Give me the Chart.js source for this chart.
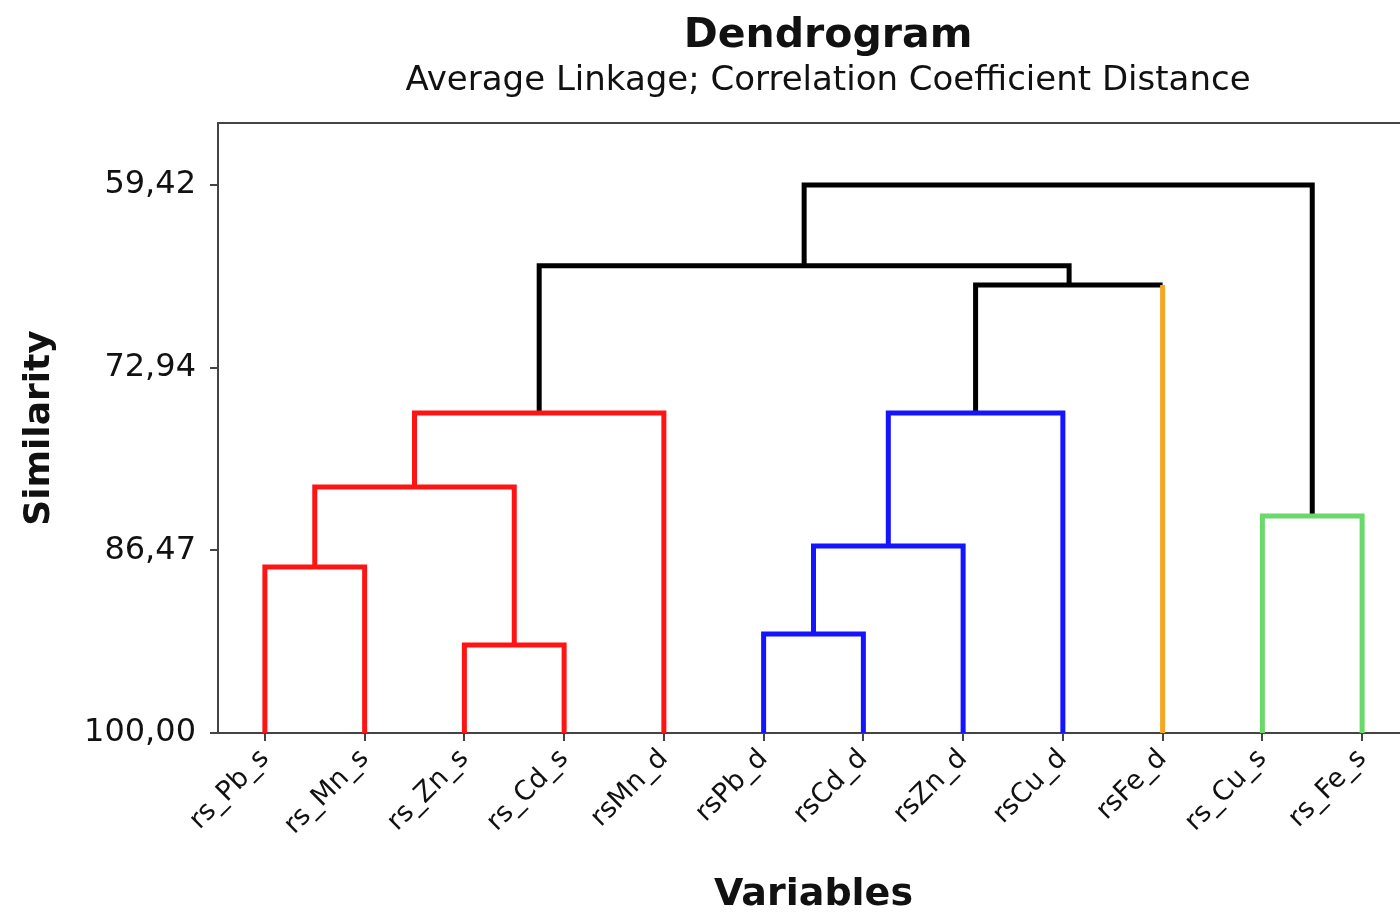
<!DOCTYPE html>
<html>
<head>
<meta charset="utf-8">
<script src="https://cdn.jsdelivr.net/npm/chart.js@4.4.0/dist/chart.umd.min.js"></script>
<style>
  html, body { margin: 0; padding: 0; background: #fff; overflow: hidden; }
  #wrap { width: 1656px; height: 920px; }
</style>
</head>
<body>
<div id="wrap"><canvas id="dendro" width="1656" height="920"></canvas></div>
<script>
// variables en el orden del eje x
var leaves = ["rs_Pb_s", "rs_Mn_s", "rs_Zn_s", "rs_Cd_s", "rsMn_d", "rsPb_d", "rsCd_d", "rsZn_d", "rsCu_d", "rsFe_d", "rs_Cu_s", "rs_Fe_s"];
// uniones: nodo izq, nodo der, similitud (los nodos 12+ son las uniones previas)
var joinLeft  = [0, 2, 12, 14, 5, 16, 17, 18, 15, 10, 20];
var joinRight = [1, 3, 13, 4, 6, 7, 8, 9, 19, 11, 21];
var joinSim   = [87.71, 93.48, 81.78, 76.30, 92.67, 86.15, 76.30, 66.82, 65.40, 83.93, 59.42];
var yTicks = [59.42, 72.94, 86.47, 100.00];

// colores
var red = "#ff1414", blue = "#1414ff", orange = "#f5a623", green = "#6ad86a", black = "#000000";
var leafColor = [red, red, red, red, red, blue, blue, blue, blue, orange, green, green];
var joinColor = [red, red, red, red, blue, blue, blue, black, black, green, black];

var fontFam = "'DejaVu Sans', Verdana, sans-serif";

function segColor(colors) {
  return function (ctx) { return colors[ctx.p0DataIndex]; };
}

var nodeX = leaves.map(function (l, i) { return i; });
var nodeY = leaves.map(function () { return 100; });
var datasets = [];
for (var j = 0; j < joinLeft.length; j++) {
  var a = joinLeft[j], b = joinRight[j], h = joinSim[j];
  var legA = a < leaves.length ? leafColor[a] : joinColor[j];
  var legB = b < leaves.length ? leafColor[b] : joinColor[j];
  datasets.push({
    data: [{x: nodeX[a], y: nodeY[a]}, {x: nodeX[a], y: h}, {x: nodeX[b], y: h}, {x: nodeX[b], y: nodeY[b]}],
    borderColor: joinColor[j],
    segment: { borderColor: segColor([legA, joinColor[j], legB]) },
    borderWidth: 5,
    pointRadius: 0,
    tension: 0,
    fill: false,
    borderJoinStyle: "miter"
  });
  nodeX.push((nodeX[a] + nodeX[b]) / 2);
  nodeY.push(h);
}

// linea superior del marco
var topLine = {
  id: "topLine",
  afterDatasetsDraw: function (chart) {
    var area = chart.chartArea, c = chart.ctx;
    c.save();
    c.strokeStyle = "#444";
    c.lineWidth = 2;
    c.beginPath();
    c.moveTo(area.left, area.top);
    c.lineTo(area.right, area.top);
    c.stroke();
    c.restore();
  }
};

new Chart(document.getElementById("dendro"), {
  type: "line",
  data: { datasets: datasets },
  plugins: [topLine],
  options: {
    responsive: false,
    animation: false,
    events: [],
    layout: { padding: 0 },
    plugins: {
      legend: { display: false },
      tooltip: { enabled: false },
      title: {
        display: true,
        text: "Dendrogram",
        color: "#111",
        font: { family: fontFam, size: 41, weight: "bold" },
        padding: { top: 12, bottom: 0 }
      },
      subtitle: {
        display: true,
        text: "Average Linkage; Correlation Coefficient Distance",
        color: "#111",
        font: { family: fontFam, size: 34 },
        padding: { top: 0, bottom: 21 }
      }
    },
    scales: {
      x: {
        type: "linear",
        min: -0.47,
        max: 11.47,
        afterBuildTicks: function (s) {
          s.ticks = leaves.map(function (l, i) { return { value: i }; });
        },
        afterFit: function (s) { s.height = 187; },
        ticks: {
          autoSkip: false,
          minRotation: 45,
          maxRotation: 45,
          padding: 2,
          color: "#111",
          font: { family: fontFam, size: 27 },
          callback: function (v) { return leaves[Math.round(v)]; }
        },
        grid: { display: true, drawOnChartArea: false, drawTicks: true, tickLength: 8, color: "#444", lineWidth: 2 },
        border: { display: true, color: "#444", width: 2 },
        title: {
          display: true,
          text: "Variables",
          color: "#111",
          font: { family: fontFam, size: 38, weight: "bold" },
          padding: { top: 0, bottom: 2 }
        }
      },
      y: {
        type: "linear",
        reverse: true,
        min: 54.83,
        max: 100,
        afterBuildTicks: function (s) {
          s.ticks = yTicks.map(function (v) { return { value: v }; });
        },
        afterFit: function (s) { s.width = 218; },
        ticks: {
          padding: 14,
          color: "#111",
          font: { family: fontFam, size: 32 },
          callback: function (v) { return v.toFixed(2).replace(".", ","); }
        },
        grid: { display: true, drawOnChartArea: false, drawTicks: true, tickLength: 8, color: "#444", lineWidth: 2 },
        border: { display: true, color: "#444", width: 2 },
        title: {
          display: true,
          text: "Similarity",
          color: "#111",
          font: { family: fontFam, size: 36, weight: "bold" },
          padding: { top: 18, bottom: 0 }
        }
      },
      yRight: {
        type: "linear",
        position: "right",
        display: true,
        grid: { display: false },
        border: { display: false },
        ticks: { display: false },
        afterFit: function (s) { s.width = 247; }
      }
    }
  }
});
</script>
</body>
</html>
